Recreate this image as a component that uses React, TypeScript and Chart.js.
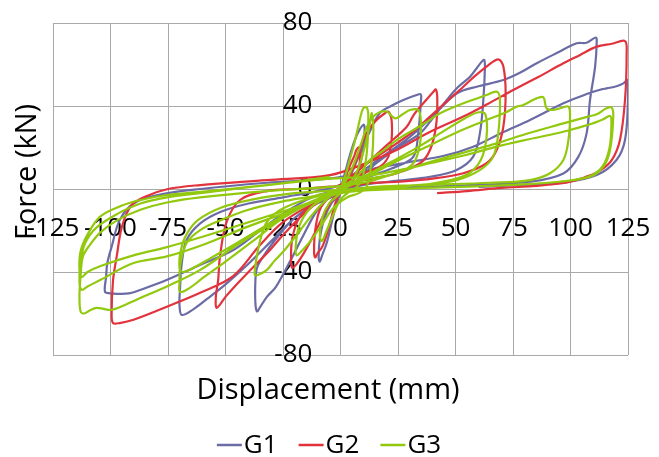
import React, { useEffect, useRef } from 'react';
import { Chart, registerables } from 'chart.js';

Chart.register(...registerables);

const X_TICKS = [-125, -100, -75, -50, -25, 0, 25, 50, 75, 100, 125];
const Y_TICKS = [-80, -40, 0, 40, 80];
const X_TITLE = 'Displacement (mm)';
const Y_TITLE = 'Force (kN)';
const SERIES_NAMES = ['G1', 'G2', 'G3'];
const SERIES_COLORS = ['#6b6ba6', '#e2333d', '#92c90e'];

// [displacement (mm), force (kN)]
const G1: [number, number][] = [
  [0, 0], [2, 8], [4, 16], [6, 23], [8, 28], [10, 31], [10.5, 29], [10, 20], [8, 10], [5, 4], [2, 1],
  [0, -2], [-2, -8], [-4, -17], [-6, -26], [-8, -32], [-9, -35], [-9.5, -33], [-9, -24], [-7, -14], [-4, -7], [-1, -3],
  [2, 2], [5, 8], [8, 16], [12, 26], [17, 36.5], [22, 40], [27.3, 42.9], [33.1, 45.3], [34.9, 45.6], [35, 43], [33.8, 27], [31.7, 15.6], [24.4, 10.8], [15, 7], [8, 4],
  [2, 1], [-4, -3], [-10, -10], [-16, -22], [-22, -35], [-28, -47], [-32, -52], [-35, -57], [-36.3, -59], [-37, -55], [-37, -44], [-36.3, -38], [-33.7, -32.7], [-28, -24], [-20, -14], [-12, -8], [-4, -4],
  [2, 0], [8, 5], [15, 12], [25, 20], [34.6, 26.8], [40, 34], [46.2, 42.9], [51, 49], [56.3, 54.1], [61.4, 61.4], [62.5, 62.2], [62.8, 59], [62.1, 42.9], [60.6, 26.8], [57.7, 15.6], [50.5, 9.2], [38.9, 5.9], [25, 4], [10, 2],
  [0, -1], [-10, -6], [-20, -14], [-30, -25], [-40, -36], [-50, -46], [-58, -53], [-64, -58], [-69, -60.7], [-70, -56], [-69.8, -48.7], [-69, -35.7], [-66.9, -24.6], [-61, -16.6], [-52, -11], [-40, -7], [-25, -4], [-10, -1],
  [0, 2], [10, 9], [20, 17], [30, 25], [40, 35], [50.5, 46], [60, 49.5], [70.8, 52.5], [78, 56], [85.3, 60.6], [94, 65.5], [102.7, 70.2], [107, 70.5], [111, 73], [111.4, 71], [110.7, 59], [108.5, 43], [107, 26.8], [103.4, 15.5], [96.9, 7.5], [82.4, 3.5], [60, 2], [35, 1], [10, 0],
  [-10, -3], [-25, -12], [-35, -20], [-46.6, -29.4], [-61.1, -36.6], [-75.6, -43.9], [-87.2, -48.7], [-92, -50.3], [-97, -50.5], [-100.2, -50.3], [-102.4, -49.5], [-101.9, -42.3], [-101.4, -35.8], [-99.5, -27.8], [-96, -15], [-90, -7], [-80, -3], [-61, 0], [-32, 3], [-5, 5],
  [5, 7], [15, 10], [30, 13], [45, 16], [57.7, 20.4], [70, 27], [82.4, 33.3], [96.9, 41.3], [104, 44.5], [109.9, 46.9], [113.5, 48], [115.7, 48.5], [120, 49.5], [123, 50.9], [124.9, 52.5], [125, 42.9], [123.7, 23.6], [120, 14], [111.4, 6.7], [96.9, 3], [80, 2], [60, 1],
];

const G2: [number, number][] = [
  [0, 0], [2, 5], [4, 11], [6, 16], [7, 19], [8, 20], [8.5, 17], [8, 10], [6, 5], [3, 2],
  [0, -1], [-2, -6], [-4, -14], [-6, -22], [-8, -28], [-10, -31], [-11, -33], [-11.5, -30], [-11, -20], [-9, -10], [-5, -4], [-1, -1],
  [2, 2], [5, 9], [8, 17], [9.9, 23.6], [12.5, 29], [15.7, 33.3], [19.3, 36.5], [20.8, 37.3], [22.2, 33.3], [22.2, 23.6], [20.8, 15.6], [17.2, 10.8], [9.9, 7.6], [4, 4],
  [0, 0], [-4, -6], [-8, -14], [-12, -23], [-16, -31], [-19, -36], [-21, -38], [-21.5, -34], [-21, -24], [-18, -14], [-12, -7], [-5, -3],
  [0, 1], [6, 7], [12, 13], [20, 21], [28.8, 30], [32, 36], [36, 41.3], [40.4, 46.9], [41.5, 48], [42.1, 42.9], [41.5, 30], [38.9, 18.8], [34.6, 12.4], [24.4, 7.6], [14, 5], [5, 3],
  [0, 0], [-8, -5], [-16, -12], [-24, -21], [-32, -31], [-40, -40], [-46, -47], [-50, -52], [-53.8, -57.3], [-54.2, -52], [-53.2, -43.9], [-52.4, -32.5], [-49.5, -15.9], [-43.7, -5.3], [-32, -1], [-18, 0], [-6, 1],
  [0, 2], [10, 11], [24.4, 22], [32, 28], [38.9, 34.9], [46, 42], [53.4, 49.3], [58, 54], [63.5, 59], [68.6, 62.5], [70.8, 59], [71.8, 46.1], [70.8, 30], [67.9, 18.8], [63.5, 12.4], [53.4, 7.6], [40, 5], [25, 3.5], [10, 2.5],
  [0, 0], [-12, -7], [-25, -16], [-35, -27], [-46.7, -42], [-61, -50], [-75.5, -56.7], [-90, -63], [-96, -64.6], [-98.9, -64.6], [-99.5, -60], [-98.9, -44], [-97.3, -32.5], [-95, -18], [-91, -8], [-85, -3.7], [-75, 0], [-61, 1.9], [-32, 4.3], [-4.6, 6.7],
  [10, 12], [24.4, 18.8], [38, 27], [53.4, 34.9], [64, 41], [75.1, 47.7], [86, 54], [96.9, 60.6], [104, 64.5], [111.4, 68.6], [118, 70], [123.7, 71.3], [124.4, 65.4], [123.7, 42.9], [121.5, 23.6], [118, 14], [113, 9], [106, 5.5], [103, 4.5], [98, 3], [85, 1.5], [70, 0.5], [55, -1], [42, -2],
];

const G3: [number, number][] = [
  [0, 0], [2, 6], [4, 14], [6, 22], [7.5, 29], [8.5, 34], [9.9, 38.9], [11.4, 39.4], [12.1, 34.8], [11.4, 17.2], [9.2, 4.3], [6, 0],
  [3, -2], [0, -5], [-3, -12], [-6, -20], [-8, -25], [-9, -23], [-8, -14], [-5, -7], [-1, -3],
  [3, 1], [7, 8], [10, 18], [12, 27], [13, 33], [13.6, 36.5], [14.3, 28.4], [13.6, 14], [11.4, 1.1], [8, -2],
  [3, -4], [-3, -9], [-8, -17], [-13, -25], [-17, -30], [-19, -32], [-19.5, -28], [-18, -18], [-13, -9], [-6, -4],
  [0, 0], [5, 10], [9, 22], [11.5, 30], [14.3, 34.9], [17, 37], [20.1, 37.3], [23.7, 34], [27, 36], [30.2, 38.1], [33.8, 38.1], [34.9, 33.3], [34.6, 22], [31.7, 12.4], [24.4, 7.6], [9.9, 4.3],
  [0, 0], [-6, -5], [-12, -12], [-17.6, -20], [-24, -29], [-29, -35], [-32, -39], [-35, -41], [-37.2, -41.5], [-37, -37], [-36.4, -32.5], [-34.5, -23], [-32, -15.9], [-26, -10], [-15, -5], [-5, -2],
  [2, 2], [8, 7], [12.8, 14], [18, 18], [24.4, 23.6], [31, 28], [38.9, 33.3], [43.3, 36.5], [53.4, 41.3], [63.5, 45.3], [67.9, 46.9], [69.3, 43.7], [68.6, 26.8], [66.4, 15.6], [60.7, 9.2], [50.5, 4.3], [35, 2], [18, 1],
  [0, -1], [-12, -6], [-25, -14], [-38, -25], [-50, -35], [-60, -43], [-66, -48], [-69.8, -49.6], [-70, -45], [-69.6, -36], [-66.9, -26], [-61, -19.8], [-52, -15], [-40, -10], [-25, -6], [-10, -3],
  [0, 0], [10, 6], [22, 13], [35, 21], [45, 28], [54, 34], [60, 37], [63, 36], [63.5, 25], [61, 14], [55, 7], [42, 3], [25, 1],
  [8, 0], [-8, -4], [-20, -10], [-33, -18], [-45, -26], [-56, -33], [-64, -38], [-68.5, -40], [-70, -38], [-69.5, -30], [-67, -22], [-62, -15], [-52, -9], [-38, -5], [-20, -2],
  [0, 0], [10, 5], [22, 12], [35, 19], [50, 27], [63, 33], [72, 37], [76.6, 39.7], [79.5, 40.5], [83, 42.5], [85.3, 43.7], [88.2, 44.2], [89.6, 38.9], [92.5, 38.1], [96.9, 39.4], [99.1, 39.7], [99.8, 35.7], [99.1, 23.6], [96.9, 14], [91.1, 7.6], [82.4, 4.3], [65, 3], [40, 2], [15, 1],
  [0, -1], [-15, -8], [-30, -17], [-45, -27], [-61, -39], [-75.5, -47], [-88, -53], [-96, -57], [-100, -58.3], [-103, -57.8], [-106, -57.3], [-109, -58.5], [-111.5, -60], [-113, -59], [-113.5, -52], [-113, -42], [-112, -32.5], [-109, -27], [-104.5, -21], [-97, -15], [-87, -10], [-75.5, -6.5], [-61, -4], [-32, -1], [-4.5, 1],
  [10, 3], [25, 8], [38.9, 13], [55, 18], [67.9, 22], [82, 27], [96.9, 31.6], [108, 35], [111.4, 36], [115.7, 38.9], [117.9, 39.2], [118.6, 34.9], [117.2, 18.8], [114.3, 10.8], [108.5, 5.9], [95, 3.5], [75, 2], [50, 1], [25, 0],
  [0, -2], [-20, -10], [-40, -18], [-60, -27], [-75.5, -32.5], [-90, -35.7], [-104.5, -43.9], [-110, -47], [-112.5, -48.6], [-113.5, -45], [-113, -35], [-111, -26], [-106, -18.5], [-97, -12], [-87, -7], [-75.5, -4], [-61, -2], [-32, 1.9], [-4.5, 5],
  [10, 6], [25, 9], [38.9, 12.4], [55, 16.5], [67.9, 20.4], [82, 24], [96.9, 27.6], [108, 31], [114, 33.5], [117.2, 35.2], [117.8, 32], [117, 20], [114, 11], [108, 6], [95, 3.5], [75, 2], [50, 1], [25, 0],
  [0, -2], [-20, -9], [-40, -16], [-60, -23], [-75.5, -28], [-90, -32], [-104, -37], [-110, -40], [-112.5, -42.4], [-113.5, -39], [-113, -30], [-110, -22], [-104.5, -13.3], [-95, -8], [-87, -5.3], [-75.5, -2.9], [-61, -1.4], [-32, 1.9], [-4.5, 5.8],
];

const SERIES = [G1, G2, G3];
const FONT = '"Open Sans", "DejaVu Sans", sans-serif';
const GRID = '#a9a9a9';

// where the tick labels sit (in data units), like Excel's "next to axis" labels
const X_LABEL_ROW = -11.8; // kN: x tick labels are drawn just below the zero line
const Y_LABEL_COL = -12.2; // mm: y tick labels end just left of the zero line

const textPlugin = {
  id: 'excelTexts',
  afterDraw(chart: any) {
    const ctx = chart.ctx;
    ctx.save();
    ctx.fillStyle = '#000';
    ctx.font = `29px ${FONT}`;
    ctx.textAlign = 'center';
    ctx.textBaseline = 'middle';
    ctx.fillText(X_TITLE, 328, 391);
    ctx.save();
    ctx.translate(28, 172);
    ctx.rotate(-Math.PI / 2);
    ctx.fillText(Y_TITLE, 0, 0);
    ctx.restore();

    // legend
    ctx.font = `26px ${FONT}`;
    ctx.textAlign = 'left';
    const lineLen = 25;
    const gap = 2;
    const itemGap = 21;
    const widths = chart.data.datasets.map((d: any) => lineLen + gap + ctx.measureText(d.label).width);
    const total = widths.reduce((a: number, b: number) => a + b, 0) + itemGap * (widths.length - 1);
    let x = 329 - total / 2;
    const y = 445;
    chart.data.datasets.forEach((d: any, i: number) => {
      ctx.strokeStyle = d.borderColor;
      ctx.lineWidth = 2.5;
      ctx.beginPath();
      ctx.moveTo(x, y);
      ctx.lineTo(x + lineLen, y);
      ctx.stroke();
      ctx.fillText(d.label, x + lineLen + gap, y + 1);
      x += widths[i] + itemGap;
    });
    ctx.restore();
  },
};

export default function App() {
  const ref = useRef<HTMLCanvasElement | null>(null);
  useEffect(() => {
    if (!ref.current) return;
    const chart = new Chart(ref.current, {
      type: 'scatter',
      data: {
        datasets: SERIES.map((s, i) => ({
          label: SERIES_NAMES[i],
          data: s.map(([x, y]) => ({ x, y })),
          showLine: true,
          borderColor: SERIES_COLORS[i],
          backgroundColor: SERIES_COLORS[i],
          borderWidth: 2.2,
          pointRadius: 0,
          pointHoverRadius: 0,
          tension: 0.35,
          order: 3 - i,
        })),
      },
      options: {
        animation: false,
        responsive: true,
        maintainAspectRatio: false,
        layout: { padding: { left: 53, right: 31, top: 23, bottom: 102 } },
        plugins: { legend: { display: false }, tooltip: { enabled: false } },
        scales: {
          x: {
            type: 'linear',
            position: { y: X_LABEL_ROW },
            min: -125,
            max: 125,
            afterBuildTicks: (scale: any) => {
              scale.ticks = X_TICKS.map((v) => ({ value: v }));
            },
            grid: { color: GRID, lineWidth: 1, drawTicks: false },
            border: { display: false },
            ticks: { color: '#000', font: { family: FONT, size: 26 }, padding: 0, maxRotation: 0, autoSkip: false },
          },
          y: {
            type: 'linear',
            position: { x: Y_LABEL_COL },
            min: -80,
            max: 80,
            afterBuildTicks: (scale: any) => {
              scale.ticks = Y_TICKS.map((v) => ({ value: v }));
            },
            grid: { color: GRID, lineWidth: 1, drawTicks: false },
            border: { display: false },
            ticks: { color: '#000', font: { family: FONT, size: 26 }, padding: 0, autoSkip: false },
          },
        },
      },
      plugins: [textPlugin],
    } as any);
    return () => chart.destroy();
  }, []);
  return (
    <div style={{ position: 'fixed', left: 0, top: 0, width: 659, height: 457, background: '#fff' }}>
      <canvas ref={ref} />
    </div>
  );
}
